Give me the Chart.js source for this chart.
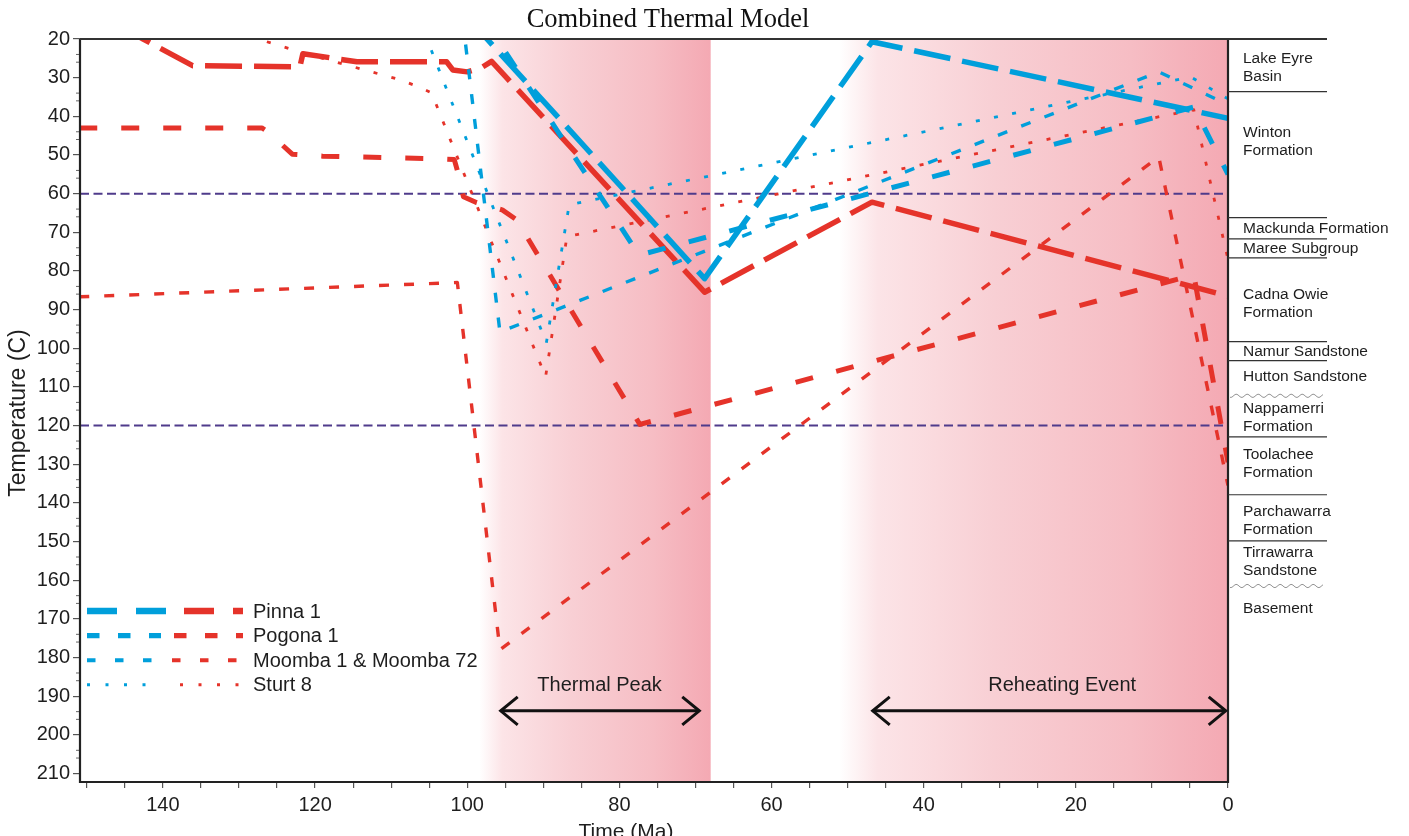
<!DOCTYPE html>
<html>
<head>
<meta charset="utf-8">
<title>Combined Thermal Model</title>
<style>
  html, body { margin: 0; padding: 0; background: #fff; }
  canvas { display: block; }
</style>
<script src="https://cdn.jsdelivr.net/npm/chart.js@4.4.1/dist/chart.umd.min.js"></script>
</head>
<body>
<canvas id="chart" width="1409" height="836"></canvas>
<script>
const BLUE = '#009fdb';
const RED = '#e5332a';
const SANS = "'Liberation Sans', Arial, sans-serif";
const SERIF = "'Liberation Serif', 'Times New Roman', serif";

// [time (Ma), temperature (C)]
const pinna1Blue = [[100, 14.5], [97.4, 20], [68.8, 82], [46.8, 20.7], [0, 40.5]];
const pinna1Red = [[146, 16.4], [142.6, 20], [136.1, 26.9], [122.0, 27.2], [121.6, 23.8], [114.5, 25.9],
  [102.7, 25.9], [101.9, 28], [100, 28.5], [98.2, 27.5], [96.8, 25.8], [68.8, 85.5], [46.8, 62.2], [0, 86.5]];
const pogona1Blue = [[98, 14.4], [96.1, 20], [77.4, 75.9], [4.5, 37.6], [0, 55]];
const pogona1Red = [[151, 43], [127, 43], [126.2, 44], [123, 49.8], [119, 50.3], [104, 51], [101.7, 51.2],
  [101.2, 54.7], [100.5, 60.8], [98.8, 62.3], [95.4, 64.2], [93.5, 66.8], [77.3, 119.7], [4.5, 81], [0, 129.5]];
const moombaBlue = [[100.6, 15], [100.3, 20], [95.7, 95.8], [9.1, 28.5], [0, 37]];
const moombaRed = [[151, 86.7], [101.3, 83], [95.7, 178], [9.1, 50.5], [0, 135.5]];
const sturt8Blue = [[106.5, 14], [105.3, 20], [89.6, 98.6], [86.6, 62.9], [4.9, 29.8], [0, 35.5]];
const sturt8Red = [[131, 18], [127.5, 20], [120.7, 24.1], [113.7, 27.9], [108.9, 30.5], [106.5, 32.3],
  [104.7, 33.9], [89.7, 107.4], [86.9, 71.1], [85.6, 70.6], [4.5, 38.3], [0, 77]];

const xTicks = [0, 5, 10, 15, 20, 25, 30, 35, 40, 45, 50, 55, 60, 65, 70, 75,
  80, 85, 90, 95, 100, 105, 110, 115, 120, 125, 130, 135, 140, 145, 150];
const yTicks = [20, 30, 40, 50, 60, 70, 80, 90, 100, 110, 120, 130, 140, 150, 160,
  170, 180, 190, 200, 210];

const legendNames = ['Pinna 1', 'Pogona 1', 'Moomba 1 & Moomba 72', 'Sturt 8'];
const limitTemps = [60, 120];
// heating windows, Ma (from, to)
const heatWindows = [[98.4, 68.0], [51.1, 0]];
const events = [
  { text: 'Thermal Peak', from: 95.6, to: 69.5, mid: 82.6 },
  { text: 'Reheating Event', from: 46.7, to: 0.3, mid: 21.8 }
];

// stratigraphic column, positions in axis units
const unitBoundaries = [33.6, 66.2, 71.7, 76.6, 98.3, 103.2, 122.9, 137.9, 149.8];
const unconformities = [112.3, 161.5];
const units = [
  { lines: ['Lake Eyre', 'Basin'], at: 27.4 },
  { lines: ['Winton', 'Formation'], at: 46.7 },
  { lines: ['Mackunda Formation'], at: 69.1 },
  { lines: ['Maree Subgroup'], at: 74.3 },
  { lines: ['Cadna Owie', 'Formation'], at: 88.5 },
  { lines: ['Namur Sandstone'], at: 100.9 },
  { lines: ['Hutton Sandstone'], at: 107.4 },
  { lines: ['Nappamerri', 'Formation'], at: 117.9 },
  { lines: ['Toolachee', 'Formation'], at: 129.9 },
  { lines: ['Parchawarra', 'Formation'], at: 144.7 },
  { lines: ['Tirrawarra', 'Sandstone'], at: 155.3 },
  { lines: ['Basement'], at: 167.4 }
];

const lineStyles = [
  { data: pinna1Blue, color: BLUE, width: 5.5, dash: [37, 12] },
  { data: pogona1Blue, color: BLUE, width: 5, dash: [18, 24] },
  { data: moombaBlue, color: BLUE, width: 3.4, dash: [10, 15] },
  { data: sturt8Blue, color: BLUE, width: 2.8, dash: [4, 14.5] },
  { data: pinna1Red, color: RED, width: 5.5, dash: [37, 12] },
  { data: pogona1Red, color: RED, width: 5, dash: [18, 24] },
  { data: moombaRed, color: RED, width: 3.4, dash: [10, 15] },
  { data: sturt8Red, color: RED, width: 2.8, dash: [4, 14.5] }
];

const legendStyles = [
  { width: 6.5, dash: [30, 19], blue: [87, 166], red: [184, 243] },
  { width: 5.3, dash: [12.5, 18.5], blue: [87, 161], red: [174, 243] },
  { width: 4, dash: [8.5, 19.5], blue: [87, 153], red: [172, 243] },
  { width: 3, dash: [3, 15.5], blue: [87, 147], red: [180, 240] }
];

const pinkStops = [[0, 'rgba(255,255,255,1)'], [0.1, '#fce4e7'], [0.4, '#f8cfd4'], [0.75, '#f6bdc4'], [1, '#f4a9b3']];

function seg(ctx, x1, y1, x2, y2) {
  ctx.beginPath();
  ctx.moveTo(x1, y1);
  ctx.lineTo(x2, y2);
  ctx.stroke();
}

const bandPlugin = {
  id: 'bands',
  beforeDatasetsDraw(chart) {
    const { ctx, chartArea: a, scales: { x, y } } = chart;
    ctx.save();
    ctx.beginPath();
    ctx.rect(a.left, a.top, a.right - a.left, a.bottom - a.top);
    ctx.clip();
    heatWindows.forEach(([from, to]) => {
      const x0 = x.getPixelForValue(from);
      const x1 = x.getPixelForValue(to);
      const g = ctx.createLinearGradient(x0, 0, x1, 0);
      pinkStops.forEach(([t, c]) => g.addColorStop(t, c));
      ctx.fillStyle = g;
      ctx.fillRect(x0, a.top, x1 - x0, a.bottom - a.top);
    });
    ctx.strokeStyle = '#4f3b8b';
    ctx.lineWidth = 2;
    ctx.setLineDash([9, 4.5]);
    limitTemps.forEach(t => {
      const py = y.getPixelForValue(t);
      seg(ctx, a.left, py, a.right, py);
    });
    ctx.restore();
  }
};

const overlayPlugin = {
  id: 'overlay',
  afterDraw(chart) {
    const { ctx, chartArea: a, scales: { x, y } } = chart;
    const colRight = 1327;
    ctx.save();

    // minor temperature ticks
    ctx.strokeStyle = '#666';
    ctx.lineWidth = 1;
    yTicks.forEach(v => {
      [4, 6].forEach(d => {
        if (v + d > 212) return;
        const py = y.getPixelForValue(v + d);
        seg(ctx, a.left - 4, py, a.left, py);
      });
    });

    // frame
    ctx.strokeStyle = '#222';
    ctx.lineWidth = 2.2;
    seg(ctx, a.left, a.top, a.left, a.bottom + 1);
    seg(ctx, a.left - 1, a.bottom, a.right, a.bottom);
    seg(ctx, a.right, a.top, a.right, a.bottom + 1);
    ctx.lineWidth = 1.8;
    ctx.strokeStyle = '#333';
    seg(ctx, a.left, a.top, colRight, a.top);

    // stratigraphic column
    ctx.lineWidth = 1.2;
    unitBoundaries.forEach(v => {
      const py = y.getPixelForValue(v);
      seg(ctx, a.right, py, colRight, py);
    });
    ctx.strokeStyle = '#888';
    ctx.lineWidth = 0.9;
    unconformities.forEach(v => {
      const py = y.getPixelForValue(v);
      ctx.beginPath();
      for (let px = a.right + 2; px <= colRight - 4; px += 1) {
        const wy = py + 1.6 * Math.sin((px - a.right) * Math.PI * 2 / 11);
        if (px === a.right + 2) ctx.moveTo(px, wy); else ctx.lineTo(px, wy);
      }
      ctx.stroke();
    });
    ctx.fillStyle = '#1e1e1e';
    ctx.font = '15.5px ' + SANS;
    ctx.textAlign = 'left';
    ctx.textBaseline = 'middle';
    units.forEach(u => {
      const cy = y.getPixelForValue(u.at);
      const top = cy - (u.lines.length - 1) * 9;
      u.lines.forEach((t, i) => ctx.fillText(t, a.right + 15, top + i * 18));
    });

    // event arrows
    ctx.strokeStyle = '#111';
    ctx.fillStyle = '#1e1e1e';
    ctx.lineWidth = 3;
    ctx.lineJoin = 'miter';
    const ay = y.getPixelForValue(193.8);
    events.forEach(e => {
      const x1 = x.getPixelForValue(e.from);
      const x2 = x.getPixelForValue(e.to);
      seg(ctx, x1, ay, x2, ay);
      ctx.beginPath();
      ctx.moveTo(x1 + 17, ay - 14); ctx.lineTo(x1, ay); ctx.lineTo(x1 + 17, ay + 14);
      ctx.moveTo(x2 - 17, ay - 14); ctx.lineTo(x2, ay); ctx.lineTo(x2 - 17, ay + 14);
      ctx.stroke();
      ctx.font = '20px ' + SANS;
      ctx.textAlign = 'center';
      ctx.textBaseline = 'alphabetic';
      ctx.fillText(e.text, x.getPixelForValue(e.mid), ay - 20);
    });

    // legend
    legendNames.forEach((name, i) => {
      const st = legendStyles[i];
      const ly = 611 + i * 24.6;
      ctx.lineWidth = st.width;
      ctx.lineCap = 'butt';
      ctx.setLineDash(st.dash);
      ctx.strokeStyle = BLUE;
      seg(ctx, st.blue[0], ly, st.blue[1], ly);
      ctx.strokeStyle = RED;
      seg(ctx, st.red[0], ly, st.red[1], ly);
      ctx.setLineDash([]);
      ctx.fillStyle = '#1e1e1e';
      ctx.font = '20px ' + SANS;
      ctx.textAlign = 'left';
      ctx.textBaseline = 'middle';
      ctx.fillText(name, 253, ly + 1);
    });

    // titles
    ctx.fillStyle = '#111';
    ctx.font = '26.5px ' + SERIF;
    ctx.textAlign = 'center';
    ctx.textBaseline = 'alphabetic';
    ctx.fillText('Combined Thermal Model', 668, 27);
    ctx.font = '21px ' + SANS;
    ctx.fillStyle = '#1e1e1e';
    ctx.fillText('Time (Ma)', 626, 838);
    ctx.font = '23px ' + SANS;
    ctx.translate(19, 413);
    ctx.rotate(-Math.PI / 2);
    ctx.textBaseline = 'middle';
    ctx.fillText('Temperature (C)', 0, 0);
    ctx.restore();
  }
};

const datasets = lineStyles.map(s => ({
  data: s.data.map(([ma, t]) => ({ x: ma, y: t })),
  borderColor: s.color,
  borderWidth: s.width,
  borderDash: s.dash,
  borderCapStyle: 'butt',
  borderJoinStyle: 'round',
  pointRadius: 0,
  tension: 0,
  fill: false,
  clip: 0
}));

new Chart(document.getElementById('chart'), {
  type: 'line',
  data: { datasets },
  options: {
    responsive: false,
    animation: false,
    devicePixelRatio: 1,
    layout: { padding: { left: 0, top: 39, right: 181, bottom: 0 } },
    plugins: { legend: { display: false }, tooltip: { enabled: false } },
    scales: {
      x: {
        type: 'linear',
        reverse: true,
        min: 0,
        max: 150.9,
        afterBuildTicks: s => { s.ticks = xTicks.map(v => ({ value: v })); },
        afterFit: s => { s.height = 54; },
        border: { display: false },
        grid: { drawOnChartArea: false, drawTicks: true, tickLength: 6, color: '#555', lineWidth: 1.2 },
        ticks: {
          autoSkip: false,
          maxRotation: 0,
          padding: 5,
          color: '#1e1e1e',
          font: { family: SANS, size: 20 },
          callback: v => (v % 20 === 0 ? String(v) : '')
        }
      },
      y: {
        type: 'linear',
        reverse: true,
        min: 20,
        max: 212.2,
        afterBuildTicks: s => { s.ticks = yTicks.map(v => ({ value: v })); },
        afterFit: s => { s.width = 80; },
        border: { display: false },
        grid: { drawOnChartArea: false, drawTicks: true, tickLength: 7, color: '#555', lineWidth: 1.2 },
        ticks: {
          autoSkip: false,
          padding: 3,
          color: '#1e1e1e',
          font: { family: SANS, size: 20 },
          callback: v => String(v)
        }
      }
    }
  },
  plugins: [bandPlugin, overlayPlugin]
});
</script>
</body>
</html>
